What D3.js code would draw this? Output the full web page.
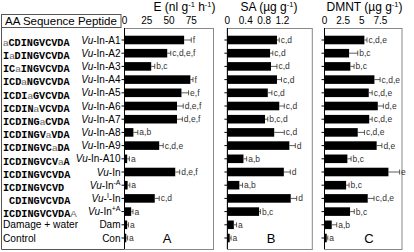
<!DOCTYPE html>
<html>
<head>
<meta charset="utf-8">
<script src="https://cdn.jsdelivr.net/npm/d3@7"></script>
<style>
body{margin:0;background:#fff}
text{font-family:"Liberation Sans",Arial,sans-serif}
</style>
</head>
<body>
<div id="chart"></div>
<script>
// peptide rows
const seqPre = ["", "I", "IC", "ICD", "ICDI", "ICDIN", "ICDING", "ICDINGV", "ICDINGVC", "ICDINGVCV",
  "ICDINGVCVDA", "ICDINGVCVD", "\u00a0CDINGVCVDA", "ICDINGVCVDA", "Damage + water", "Control"];
const seqAla = ["a", "a", "a", "a", "a", "a", "a", "a", "a", "a", "", "", "", "A", "", ""];
const seqPost = ["CDINGVCVDA", "DINGVCVDA", "INGVCVDA", "NGVCVDA", "GVCVDA", "VCVDA", "CVDA", "VDA", "DA", "A",
  "", "", "", "", "", ""];
// name parts: [text, style]  i = italic, n = normal, s = superscript
const names = [
  [["Vu","i"],["-In-A1","n"]], [["Vu","i"],["-In-A2","n"]], [["Vu","i"],["-In-A3","n"]],
  [["Vu","i"],["-In-A4","n"]], [["Vu","i"],["-In-A5","n"]], [["Vu","i"],["-In-A6","n"]],
  [["Vu","i"],["-In-A7","n"]], [["Vu","i"],["-In-A8","n"]], [["Vu","i"],["-In-A9","n"]],
  [["Vu","i"],["-In-A10","n"]], [["Vu","i"],["-In","n"]], [["Vu","i"],["-In","n"],["-A","s"]],
  [["Vu","i"],["-","n"],["I","s"],["-In","n"]], [["Vu","i"],["-In","n"],["+A","s"]],
  [["Dam","n"]], [["Con","n"]]
];

// E (nl g-1 h-1)
const eVals = [67, 48, 30, 74, 64, 59, 59, 10, 39, 3, 57, 3.5, 34, 7.5, 3, 2];
const eErr = [8, 4, 4, 3, 8, 7, 6, 5, 4.5, 2.5, 5, 2.5, 5, 2, 1.5, 1.5];
const eSig = ["f","c,d,e,f","b,c","f","e,f","d,e,f","d,e,f","a,b","c,d,e","a","d,e,f","a","c,d","a","a","a"];
const eTicks = [0, 25, 50, 75];

// SA (ug g-1)
const saVals = [1.08, 0.93, 0.95, 1.08, 0.88, 1.13, 0.82, 1.02, 1.35, 0.35, 1.23, 0.26, 1.38, 0.69, 0.14, 0.05];
const saErr = [0.05, 0.06, 0.13, 0.1, 0.09, 0.11, 0.06, 0.22, 0.13, 0.07, 0.14, 0.07, 0.13, 0.03, 0.06, 0.03];
const saSig = ["c,d","c,d","c,d","c,d","c,d","c,d","b,c,d","c,d","d","a,b","d","a,b","d","b,c","a","a"];
const saTicks = [0, 0.4, 0.8, 1.2];

// DMNT (ug g-1)
const dmVals = [5.35, 3.3, 3.47, 6.7, 5.94, 7.15, 6.0, 4.46, 7.0, 3.07, 8.58, 2.9, 5.8, 3.43, 0.97, 0.3];
const dmErr = [0.35, 1.16, 0.5, 0.76, 0.46, 0.75, 0.4, 0.9, 0.7, 0.5, 1.5, 0.4, 0.85, 0.57, 0.67, 0.15];
const dmSig = ["c,d,e","b,c","b,c","c,d,e","c,d,e","d,e","c,d,e","c,d,e","d,e","b,c","e","b,c","c,d,e","b,c","a,b","a"];
const dmTicks = [0, 2.5, 5.0, 7.5];

const W = 414, H = 252;
const frameTop = 28, frameBottom = 249;
const svg = d3.select('#chart').append('svg').attr('width', W).attr('height', H);

const rowIdx = d3.range(seqPre.length);
const y = d3.scaleBand().domain(rowIdx).range([33.4, 244.6]).paddingInner(0.35).paddingOuter(0.175);
const cy = i => y(i) + y.bandwidth() / 2;

// label box
svg.append('rect').attr('x', 1.5).attr('y', 14.5).attr('width', 119.5).attr('height', 13)
  .attr('fill', 'none').attr('stroke', '#555');
svg.append('text').attr('x', 5).attr('y', 25).attr('font-size', 11.5).text('AA Sequence Peptide');
svg.append('path').attr('d', `M1.5,27.5V${frameBottom}.5H125`).attr('fill', 'none').attr('stroke', '#555');

// sequences
const seqG = svg.append('g');
rowIdx.forEach(i => {
  let t = seqG.append('text').attr('x', 3).attr('y', cy(i)).attr('dy', '0.36em');
  if (i >= 14) {
    t.attr('font-size', 10.2).text(seqPre[i]);
    return;
  }
  let mono = '"Liberation Mono","Courier New",monospace';
  t.append('tspan').attr('font-family', mono).attr('font-weight', 'bold').attr('font-size', 10.2).text(seqPre[i]);
  if (seqAla[i]) t.append('tspan').attr('font-size', 9.8).attr('fill', '#666').text(seqAla[i]);
  if (seqPost[i]) t.append('tspan').attr('font-family', mono).attr('font-weight', 'bold').attr('font-size', 10.2).text(seqPost[i]);
});

// names
rowIdx.forEach(i => {
  let t = svg.append('text').attr('x', 120.5).attr('y', cy(i)).attr('dy', '0.36em')
    .attr('text-anchor', 'end').attr('font-size', 10);
  let shifted = false;
  names[i].forEach(p => {
    let s = t.append('tspan').text(p[0]);
    if (p[1] == 'i') s.attr('font-style', 'italic');
    if (p[1] == 's') { s.attr('font-size', 7).attr('dy', -4); shifted = true; }
    else if (shifted) { s.attr('dy', 4); shifted = false; }
  });
});

// titles, superscripts as tspans
function title(cx, parts) {
  let t = svg.append('text').attr('x', cx).attr('y', 11).attr('text-anchor', 'middle').attr('font-size', 12);
  parts.forEach((p, k) => {
    let s = t.append('tspan').text(p);
    if (k % 2 == 1) s.attr('font-size', 7.5).attr('dy', -4.5);
    else if (k > 0) s.attr('dy', 4.5);
  });
}

function panel(vals, errs, sig, ticks, domain, range, letter, letterX) {
  let x = d3.scaleLinear().domain(domain).range(range);
  let g = svg.append('g');
  // frame
  g.append('rect').attr('x', range[0]).attr('y', frameTop + 0.5).attr('width', range[1] - range[0])
    .attr('height', frameBottom - frameTop).attr('fill', 'none').attr('stroke', '#888');
  // left axis with ticks at row centres
  let yAxis = d3.axisLeft(y).tickSize(3).tickFormat('');
  g.append('g').attr('transform', `translate(${range[0]},0)`).call(yAxis)
    .call(a => a.select('.domain').attr('d', `M0,${frameTop}V${frameBottom}`));
  // top tick labels
  g.selectAll('text.tk').data(ticks).enter().append('text').attr('class', 'tk')
    .attr('x', d => x(d)).attr('y', 24).attr('text-anchor', 'middle').attr('font-size', 10)
    .text(d => d);
  // bars
  g.selectAll('rect.bar').data(vals).enter().append('rect').attr('class', 'bar')
    .attr('x', x(0)).attr('y', (d, i) => y(i)).attr('height', y.bandwidth())
    .attr('width', d => x(d) - x(0)).attr('fill', '#000');
  // error bars
  let eg = g.selectAll('g.err').data(vals).enter().append('g').attr('class', 'err');
  eg.append('line').attr('x1', d => x(d)).attr('x2', (d, i) => x(d + errs[i]))
    .attr('y1', (d, i) => cy(i)).attr('y2', (d, i) => cy(i)).attr('stroke', '#333').attr('stroke-width', 0.8);
  eg.append('line').attr('x1', (d, i) => x(d + errs[i])).attr('x2', (d, i) => x(d + errs[i]))
    .attr('y1', (d, i) => cy(i) - 2.5).attr('y2', (d, i) => cy(i) + 2.5).attr('stroke', '#333').attr('stroke-width', 0.8);
  eg.append('text').attr('x', (d, i) => x(d + errs[i]) + 1.5).attr('y', (d, i) => cy(i)).attr('dy', '0.35em')
    .attr('font-size', 8.5).attr('fill', '#333').text((d, i) => sig[i]);
  g.append('text').attr('x', letterX).attr('y', 243).attr('text-anchor', 'middle').attr('font-size', 13).text(letter);
}

title(184.5, ['E (nl g', '-1', ' h', '-1', ')']);
title(269, ['SA (\u00b5g g', '-1', ')']);
title(364.5, ['DMNT (\u00b5g g', '-1', ')']);

panel(eVals, eErr, eSig, eTicks, [0, 100], [124.5, 213.5], 'A', 167);
panel(saVals, saErr, saSig, saTicks, [0, 1.85], [227.4, 312.3], 'B', 271);
panel(dmVals, dmErr, dmSig, dmTicks, [0, 10.4], [324.5, 402], 'C', 369);
</script>
</body>
</html>
